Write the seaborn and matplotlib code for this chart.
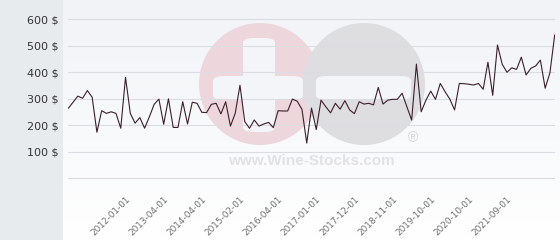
import matplotlib
matplotlib.use("Agg")
import matplotlib.pyplot as plt
from matplotlib.patches import Rectangle, Ellipse, FancyBboxPatch
from matplotlib.colors import LinearSegmentedColormap
import seaborn as sns
import pandas as pd
import numpy as np

# ---- data ----
prices = [264, 287, 310, 302, 331, 306, 174, 255, 245, 251, 245, 189, 381, 245, 208, 229,
          189, 232, 279, 299, 204, 300, 192, 192, 289, 205, 287, 283, 249, 248, 279, 283,
          243, 289, 197, 245, 351, 214, 189, 220, 197, 205, 211, 191, 255, 254, 254, 299,
          291, 260, 133, 265, 184, 295, 270, 247, 283, 261, 293, 258, 244, 289, 280, 283,
          277, 343, 280, 295, 298, 298, 321, 270, 220, 431, 251, 295, 329, 298, 358, 327,
          299, 258, 358, 357, 355, 352, 358, 336, 438, 313, 503, 430, 400, 417, 411, 457,
          390, 415, 424, 446, 340, 398, 541]
tick_labels = ["2012-01-01", "2013-04-01", "2014-04-01", "2015-02-01", "2016-04-01",
               "2017-01-01", "2017-12-01", "2018-11-01", "2019-10-01", "2020-10-01",
               "2021-09-01"]
y_ticks = [100, 200, 300, 400, 500, 600]

df = pd.DataFrame({"idx": np.arange(len(prices)), "price": prices})
tick_pos = [12 + 8 * i for i in range(len(tick_labels))]

sns.set_theme(style="white")
plt.rcParams["font.family"] = ["DejaVu Sans"]

W, H = 560, 240
fig = plt.figure(figsize=(W / 100, H / 100), dpi=100)
fig.patch.set_facecolor("#fbfbfc")


def fx(px):
    return px / W


def fy(py):
    return 1 - py / H


# plot area background (gradient) + left grey panel
bg = fig.add_axes([0, 0, 1, 1], zorder=0)
grad = np.linspace(0, 1, 100).reshape(-1, 1)
cm = LinearSegmentedColormap.from_list("g", ["#f1f3f7", "#ffffff"])
bg.imshow(grad, aspect="auto", cmap=cm, extent=[63 / W, 1, 0, 1], origin="upper")
bg.add_patch(Rectangle((0, 0), 63 / W, 1, facecolor="#e7ebee", edgecolor="none"))
bg.set_xlim(0, 1)
bg.set_ylim(0, 1)

# watermark
bg.add_patch(Ellipse((fx(260), fy(84)), 2 * 61 / W, 2 * 61 / H, facecolor="#eed7dc", edgecolor="none"))
bg.add_patch(Ellipse((fx(364), fy(84)), 2 * 61 / W, 2 * 61 / H, facecolor="#dedee0", edgecolor="none"))
bars = [
    (213, 76, 90, 24),   # pink horizontal
    (243, 38, 32, 94),   # pink vertical
    (316, 76, 95, 24),   # gray horizontal
]
for (x0, y0, w, h) in bars:
    bg.add_patch(FancyBboxPatch((fx(x0), fy(y0 + h)), w / W, h / H,
                                boxstyle="round,pad=0,rounding_size=0.02",
                                facecolor="#f4f5f8", edgecolor="none"))
bg.text(fx(311), fy(161), "www.Wine-Stocks.com", ha="center", va="center",
        fontsize=11, fontweight="bold", color="#e2e2e4",
        family=["Liberation Sans", "DejaVu Sans"])
bg.text(fx(413), fy(138), "\u00ae", ha="center", va="center",
        fontsize=10, color="#d8d8da", family=["Liberation Sans", "DejaVu Sans"])
bg.axis("off")

# main axes: pixel 0..182 vertically, value 0 at pixel 178.3
px_per_unit = 0.265
ax_left, ax_right = 68.3 / W, 554.7 / W
ax_bot_px = 182.0
ax = fig.add_axes([ax_left, 1 - ax_bot_px / H, ax_right - ax_left, ax_bot_px / H], zorder=2)
ax.set_facecolor("none")

sns.lineplot(data=df, x="idx", y="price", ax=ax, color="#3a1f2c", linewidth=0.8, zorder=3)

ax.set_xlim(0, len(prices) - 1)
ax.set_ylim(-(ax_bot_px - 178.3) / px_per_unit, 178.3 / px_per_unit)
ax.set_yticks([0] + y_ticks)
ax.set_yticklabels([""] + [f"{v} $" for v in y_ticks])
ax.yaxis.grid(True, color="#dcdde2", linewidth=0.8)
ax.set_axisbelow(True)
ax.set_xticks(tick_pos)
ax.set_xticklabels(tick_labels, rotation=45, ha="right", rotation_mode="anchor")
ax.tick_params(axis="x", length=0, pad=9, labelsize=6.4, labelcolor="#707070")
ax.tick_params(axis="y", length=0, pad=7, labelsize=8, labelcolor="#333333")
for s in ax.spines.values():
    s.set_visible(False)
ax.set_xlabel("")
ax.set_ylabel("")

fig.savefig("out.png", dpi=100)
